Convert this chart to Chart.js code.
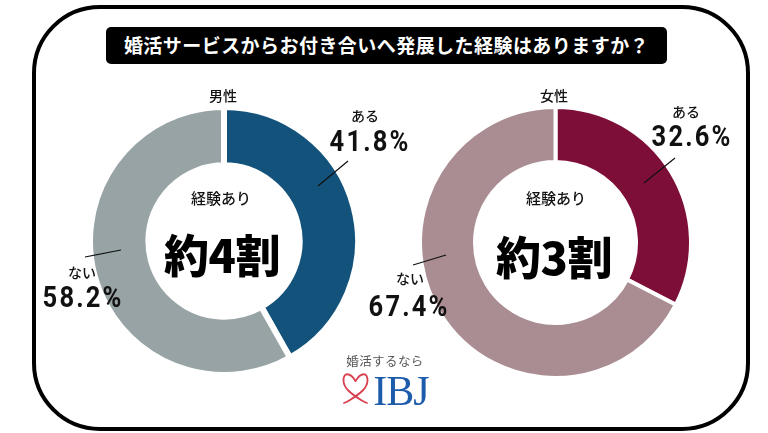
<!DOCTYPE html>
<html lang="ja"><head><meta charset="utf-8">
<script src="https://cdn.jsdelivr.net/npm/chart.js@4"></script>
<style>
html,body{margin:0;padding:0;background:#fff;}
#stage{position:relative;width:768px;height:433px;overflow:hidden;background:#fff;font-family:"Noto Sans CJK JP",sans-serif;color:#111;}
#frame{position:absolute;left:32px;top:5px;width:710px;height:418px;border:4px solid #000;border-radius:68px;}
#title{position:absolute;left:106px;top:27px;width:561px;height:37px;line-height:36px;background:#000;color:#fff;border-radius:5px;text-align:center;font-weight:700;font-size:19px;letter-spacing:.45px;white-space:nowrap;}
canvas{position:absolute;}
.t{position:absolute;transform:translate(-50%,-50%);white-space:nowrap;line-height:1;}
.m{font-size:14px;font-weight:500;}
.p{font-family:Roboto,sans-serif;font-size:29px;font-weight:700;letter-spacing:2.4px;transform:translate(-50%,-50%) scaleX(.88);}
.c{font-size:15px;font-weight:500;}
.b{font-size:45px;font-weight:900;letter-spacing:-.5px;color:#000;}
svg{position:absolute;left:0;top:0;}
</style></head><body>
<div id="stage">
<div id="frame"></div>
<div id="title"></div>
<canvas id="male"></canvas>
<canvas id="female"></canvas>
<svg width="768" height="433">
<g stroke="#111" stroke-width="1.2">
<line x1="318" y1="186" x2="348" y2="161"/><line x1="85" y1="257" x2="121" y2="250"/>
<line x1="644" y1="183" x2="675" y2="158"/><line x1="413" y1="265" x2="446" y2="255"/>
</g>
<g fill="none" stroke="#d9404f" stroke-width="1.8" stroke-linecap="round">
<path d="M355.5 381C350 372 343 372 343.5 381C344 388 350 393 361 400Q364 402 367 403"/>
<path d="M355.5 381C361 372 368 372 367.5 381C367 388 361 393 350 400Q347 402 344 403"/>
</g>
</svg>
<div class="t" style="left:385px;top:361px;font-size:12.5px;color:#555;letter-spacing:.4px">婚活するなら</div>
<div class="t" style="left:401px;top:391px;font-family:'Liberation Serif',serif;font-size:42px;color:#1d5bab;letter-spacing:-1px">IBJ</div>
</div>
<script>
const titleText = "婚活サービスからお付き合いへ発展した経験はありますか？";
const categories = ["ある", "ない"];
const maleValues = [41.8, 58.2];
const femaleValues = [32.6, 67.4];
const maleColors = ["#12527b", "#98a3a5"];
const femaleColors = ["#7d0e38", "#a98d92"];
const genderLabels = ["男性", "女性"];
const centerCaption = "経験あり";
const centerLabels = ["約4割", "約3割"];

document.getElementById("title").textContent = titleText;
function label(text, cls, x, y){
  const d = document.createElement("div");
  d.className = "t " + cls; d.textContent = text;
  d.style.left = x + "px"; d.style.top = y + "px";
  document.getElementById("stage").appendChild(d);
}
function donut(id, values, colors, cx, cy, r, inner, gap){
  const el = document.getElementById(id);
  const size = 2 * r + 8;
  el.width = size; el.height = size;
  el.style.left = (cx - size / 2) + "px"; el.style.top = (cy - size / 2) + "px";
  el.style.width = size + "px"; el.style.height = size + "px";
  new Chart(el, {
    type: "doughnut",
    data: { labels: categories, datasets: [{ data: values, backgroundColor: colors, borderColor: "#fff", borderWidth: gap, borderAlign: "center" }] },
    options: { responsive: false, animation: false, radius: r + gap / 2, cutout: inner - gap / 2, rotation: 0, layout: { padding: 0 },
      plugins: { legend: { display: false }, tooltip: { enabled: false } } }
  });
}
donut("male", maleValues, maleColors, 224, 241, 131, 77.5, 6);
donut("female", femaleValues, femaleColors, 555.7, 242.5, 133.5, 82.5, 4);

label(genderLabels[0], "m", 223, 95);
label(genderLabels[1], "m", 554, 95);
label(categories[0], "m", 365, 115);
label(maleValues[0] + "%", "p", 370, 141);
label(categories[1], "m", 82, 272);
label(maleValues[1] + "%", "p", 83, 297);
label(categories[0], "m", 686, 111);
label(femaleValues[0] + "%", "p", 692, 136);
label(categories[1], "m", 410, 278);
label(femaleValues[1] + "%", "p", 409, 306);
label(centerCaption, "c", 221, 197);
label(centerCaption, "c", 556, 197);
label(centerLabels[0], "b", 222, 253);
label(centerLabels[1], "b", 554, 255);
</script>
</body></html>
